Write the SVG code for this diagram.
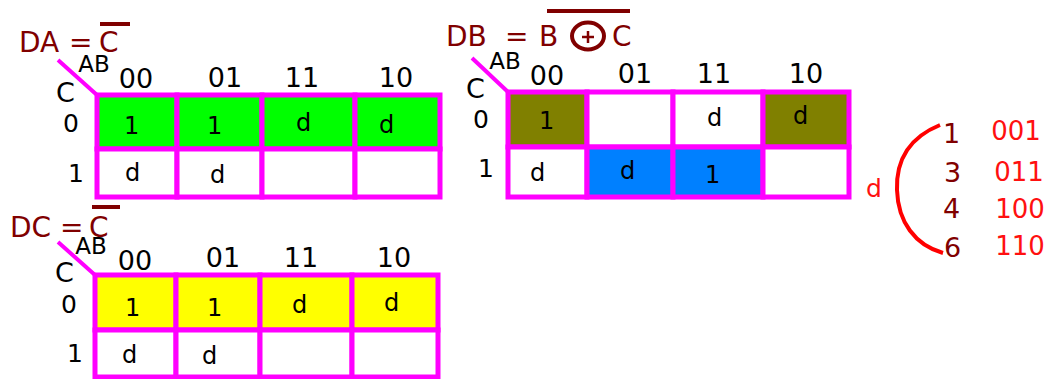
<svg xmlns="http://www.w3.org/2000/svg" width="1052" height="379" viewBox="0 0 1052 379">
<style>
text{font-family:"DejaVu Sans","Liberation Sans",sans-serif;}
.cell{stroke:#ff00ff;stroke-width:5;fill:#ffffff;}
.g{fill:#00ff00;} .y{fill:#ffff00;} .o{fill:#808000;} .b{fill:#0080ff;}
.diag{stroke:#ff00ff;stroke-width:4;}
.t{font-size:24px;fill:#000;}
.hd{font-size:27px;fill:#000;text-anchor:middle;}
.row{font-size:25px;fill:#000;}
.c{font-size:27px;fill:#000;}
.ab{font-size:23px;fill:#000;text-anchor:middle;}
.eq{font-size:28px;fill:#800000;}
.bar{stroke:#800000;stroke-width:4;}
.num{font-size:27px;fill:#800000;}
.code{font-size:26px;fill:#ff1010;text-anchor:middle;}
</style>
<g id="connectors">
<line class="diag" x1="58" y1="60" x2="97" y2="95"/>
<line class="diag" x1="472" y1="58" x2="508" y2="92"/>
<line class="diag" x1="58" y1="242" x2="95" y2="275"/>
<path d="M940,125 C908,138 896,162 897,190 C898,222 915,245 943,253" fill="none" stroke="#ff0000" stroke-width="4"/>
</g>
<g id="mapA">
<text class="eq"><tspan x="19" y="52">DA</tspan><tspan x="69" y="52">=</tspan><tspan x="99" y="52">C</tspan></text>
<line class="bar" x1="100" y1="24" x2="130" y2="24"/>
<text class="ab" x="94" y="72">AB</text>
<text class="c" x="56" y="102">C</text>
<text class="hd" x="136" y="88">00</text>
<text class="hd" x="225" y="87">01</text>
<text class="hd" x="302" y="87">11</text>
<text class="hd" x="396" y="87">10</text>
<text class="row" x="63" y="132">0</text>
<text class="row" x="68" y="182">1</text>
<rect class="cell g" x="97" y="95" width="80" height="54"/>
<rect class="cell g" x="177" y="95" width="85" height="54"/>
<rect class="cell g" x="262" y="95" width="93" height="54"/>
<rect class="cell g" x="355" y="95" width="85" height="54"/>
<rect class="cell" x="97" y="149" width="80" height="48"/>
<rect class="cell" x="177" y="149" width="85" height="48"/>
<rect class="cell" x="262" y="149" width="93" height="48"/>
<rect class="cell" x="355" y="149" width="85" height="48"/>
<text class="t" x="124" y="134">1</text>
<text class="t" x="207" y="134">1</text>
<text class="t" x="296" y="131">d</text>
<text class="t" x="379" y="133">d</text>
<text class="t" x="125" y="181">d</text>
<text class="t" x="210" y="183">d</text>
</g>
<g id="mapB">
<text class="eq"><tspan x="446" y="46">DB</tspan><tspan x="505" y="46">=</tspan><tspan x="539" y="46">B</tspan><tspan x="612" y="46">C</tspan></text>
<ellipse cx="588" cy="36" rx="16" ry="13.5" fill="none" stroke="#800000" stroke-width="4"/>
<line x1="582" y1="37" x2="594" y2="37" stroke="#800000" stroke-width="2.5"/>
<line x1="588" y1="31" x2="588" y2="43" stroke="#800000" stroke-width="2.5"/>
<line class="bar" x1="547" y1="11" x2="630" y2="11"/>
<text class="ab" x="505" y="69">AB</text>
<text class="c" x="466" y="98">C</text>
<text class="hd" x="547" y="85">00</text>
<text class="hd" x="635" y="83">01</text>
<text class="hd" x="714" y="83">11</text>
<text class="hd" x="806" y="83">10</text>
<text class="row" x="473" y="128">0</text>
<text class="row" x="478" y="177">1</text>
<rect class="cell o" x="508" y="92" width="79" height="55"/>
<rect class="cell" x="587" y="92" width="86" height="55"/>
<rect class="cell" x="673" y="92" width="90" height="55"/>
<rect class="cell o" x="763" y="92" width="86" height="55"/>
<rect class="cell" x="508" y="147" width="79" height="50"/>
<rect class="cell b" x="587" y="147" width="86" height="50"/>
<rect class="cell b" x="673" y="147" width="90" height="50"/>
<rect class="cell" x="763" y="147" width="86" height="50"/>
<text class="t" x="539" y="129">1</text>
<text class="t" x="707" y="126">d</text>
<text class="t" x="793" y="124">d</text>
<text class="t" x="530" y="181">d</text>
<text class="t" x="620" y="179">d</text>
<text class="t" x="705" y="183">1</text>
</g>
<g id="dontcare">
<text x="866" y="197" style="font-size:25px;fill:#ff1010">d</text>
<text class="num" x="943" y="143">1</text>
<text class="num" x="944" y="182">3</text>
<text class="num" x="943" y="218">4</text>
<text class="num" x="944" y="257">6</text>
<text class="code" x="1016" y="140">001</text>
<text class="code" x="1019" y="181">011</text>
<text class="code" x="1020" y="218">100</text>
<text class="code" x="1020" y="255">110</text>
</g>
<g id="mapC">
<text class="eq"><tspan x="10" y="237">DC</tspan><tspan x="60" y="237">=</tspan><tspan x="89" y="237">C</tspan></text>
<line class="bar" x1="92" y1="207" x2="120" y2="207"/>
<text class="ab" x="91" y="254">AB</text>
<text class="c" x="55" y="282">C</text>
<text class="hd" x="135" y="270">00</text>
<text class="hd" x="223" y="267">01</text>
<text class="hd" x="301" y="267">11</text>
<text class="hd" x="394" y="267">10</text>
<text class="row" x="61" y="313">0</text>
<text class="row" x="67" y="362">1</text>
<rect class="cell y" x="95" y="275" width="81" height="55"/>
<rect class="cell y" x="176" y="275" width="84" height="55"/>
<rect class="cell y" x="260" y="275" width="92" height="55"/>
<rect class="cell y" x="352" y="275" width="86" height="55"/>
<rect class="cell" x="95" y="330" width="81" height="47"/>
<rect class="cell" x="176" y="330" width="84" height="47"/>
<rect class="cell" x="260" y="330" width="92" height="47"/>
<rect class="cell" x="352" y="330" width="86" height="47"/>
<text class="t" x="125" y="316">1</text>
<text class="t" x="207" y="316">1</text>
<text class="t" x="292" y="313">d</text>
<text class="t" x="384" y="311">d</text>
<text class="t" x="122" y="363">d</text>
<text class="t" x="202" y="364">d</text>
</g>
</svg>
